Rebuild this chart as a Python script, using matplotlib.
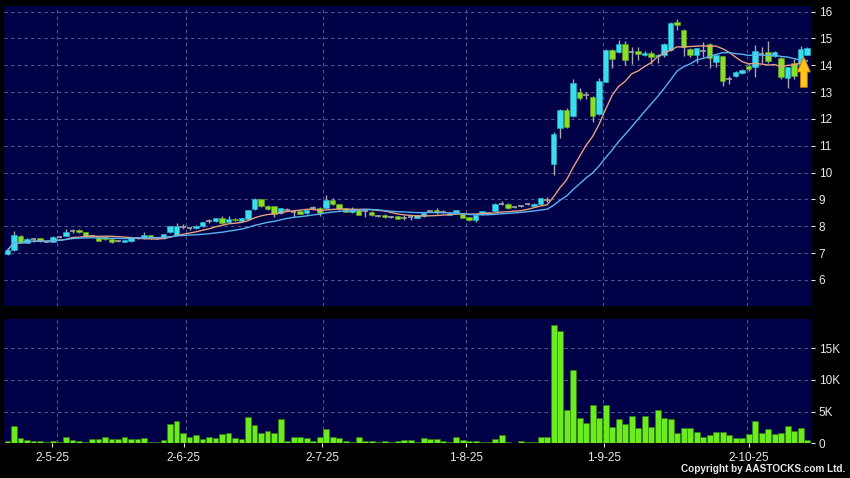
import numpy as np
import pandas as pd
import matplotlib
matplotlib.use('Agg')
import matplotlib.pyplot as plt

# ---------------- data ----------------
opens = [6.96, 7.10, 7.63, 7.39, 7.53, 7.56, 7.43, 7.42, 7.61, 7.65,
         7.84, 7.88, 7.78, 7.63, 7.59, 7.60, 7.52, 7.46, 7.43, 7.45,
         7.55, 7.56, 7.67, 7.55, 7.58, 7.78, 7.68, 7.96, 7.93, 7.93,
         8.01, 8.20, 8.19, 8.32, 8.16, 8.28, 8.20, 8.26, 8.64, 9.00,
         8.75, 8.74, 8.49, 8.62, 8.52, 8.58, 8.48, 8.67, 8.69, 8.67,
         8.99, 8.83, 8.67, 8.52, 8.59, 8.56, 8.54, 8.39, 8.44, 8.36,
         8.37, 8.32, 8.34, 8.32, 8.40, 8.58, 8.62, 8.54, 8.44, 8.48,
         8.48, 8.34, 8.25, 8.46, 8.49, 8.58, 8.84, 8.84, 8.71, 8.75,
         8.83, 8.74, 8.83, 8.99, 10.33, 11.67, 12.33, 12.10, 13.00, 12.90,
         12.83, 12.18, 13.39, 14.56, 14.49, 14.80, 14.50, 14.54, 14.39, 14.46,
         14.33, 14.39, 14.57, 15.62, 15.31, 14.60, 14.39, 14.54, 14.79, 14.11,
         14.33, 13.49, 13.61, 13.71, 13.98, 13.95, 14.42, 14.49, 14.36, 14.27,
         13.51, 14.07, 14.05, 14.39]
highs = [7.13, 7.84, 7.68, 7.55, 7.56, 7.58, 7.46, 7.64, 7.64, 7.89,
         7.89, 7.90, 7.80, 7.66, 7.62, 7.63, 7.53, 7.50, 7.50, 7.58,
         7.58, 7.78, 7.69, 7.58, 7.72, 8.02, 8.11, 8.10, 7.98, 8.04,
         8.17, 8.28, 8.32, 8.38, 8.38, 8.32, 8.32, 8.62, 9.07, 9.03,
         8.78, 8.77, 8.70, 8.70, 8.58, 8.61, 8.61, 8.75, 8.71, 9.16,
         9.06, 8.85, 8.69, 8.72, 8.61, 8.62, 8.56, 8.42, 8.46, 8.40,
         8.39, 8.43, 8.38, 8.44, 8.52, 8.62, 8.67, 8.62, 8.52, 8.61,
         8.50, 8.36, 8.43, 8.58, 8.52, 8.87, 8.93, 8.86, 8.74, 8.78,
         8.88, 8.87, 9.06, 9.08, 11.50, 12.36, 12.40, 13.48, 13.17, 13.00,
         12.86, 13.54, 14.62, 14.62, 14.95, 14.90, 14.69, 14.70, 14.52, 14.52,
         14.42, 14.85, 15.60, 15.72, 15.36, 14.63, 14.66, 14.87, 14.82, 14.39,
         14.36, 13.60, 13.77, 13.87, 14.05, 14.77, 14.70, 14.89, 14.52, 14.30,
         13.95, 14.25, 14.73, 14.67]
lows = [6.94, 7.08, 7.36, 7.37, 7.40, 7.42, 7.40, 7.40, 7.58, 7.63,
        7.76, 7.75, 7.63, 7.60, 7.44, 7.50, 7.37, 7.40, 7.41, 7.43,
        7.52, 7.54, 7.54, 7.52, 7.53, 7.76, 7.66, 7.90, 7.85, 7.91,
        7.99, 8.12, 8.17, 8.09, 8.14, 8.18, 8.18, 8.24, 8.62, 8.72,
        8.62, 8.35, 8.47, 8.58, 8.36, 8.45, 8.46, 8.62, 8.40, 8.65,
        8.81, 8.62, 8.52, 8.50, 8.42, 8.33, 8.39, 8.36, 8.30, 8.32,
        8.27, 8.24, 8.24, 8.30, 8.36, 8.52, 8.46, 8.50, 8.42, 8.46,
        8.30, 8.20, 8.17, 8.44, 8.46, 8.56, 8.78, 8.65, 8.68, 8.72,
        8.79, 8.72, 8.81, 8.90, 9.90, 11.28, 11.67, 12.08, 12.72, 12.75,
        11.90, 12.15, 13.37, 13.90, 14.47, 14.00, 14.05, 14.20, 14.35, 14.05,
        14.10, 14.30, 14.55, 15.30, 14.36, 14.30, 14.10, 14.30, 13.90, 13.95,
        13.24, 13.30, 13.58, 13.68, 13.80, 13.58, 14.10, 14.10, 14.32, 13.50,
        13.16, 13.50, 14.00, 14.37]
closes = [7.11, 7.67, 7.39, 7.52, 7.53, 7.47, 7.43, 7.62, 7.61, 7.77,
          7.84, 7.77, 7.65, 7.63, 7.47, 7.53, 7.40, 7.46, 7.48, 7.56,
          7.55, 7.68, 7.56, 7.55, 7.70, 8.00, 8.00, 7.96, 7.93, 8.02,
          8.15, 8.20, 8.30, 8.11, 8.27, 8.22, 8.30, 8.60, 9.00, 8.74,
          8.66, 8.45, 8.67, 8.62, 8.52, 8.47, 8.59, 8.67, 8.50, 8.97,
          8.83, 8.64, 8.55, 8.64, 8.44, 8.56, 8.41, 8.39, 8.33, 8.36,
          8.29, 8.32, 8.34, 8.42, 8.48, 8.58, 8.52, 8.54, 8.50, 8.59,
          8.32, 8.22, 8.41, 8.56, 8.49, 8.85, 8.84, 8.67, 8.71, 8.75,
          8.83, 8.85, 9.04, 8.99, 11.44, 12.33, 11.69, 13.33, 12.80, 12.90,
          12.10, 13.42, 14.57, 14.22, 14.78, 14.19, 14.50, 14.42, 14.45, 14.32,
          14.37, 14.80, 15.57, 15.50, 14.70, 14.38, 14.64, 14.54, 14.29, 14.37,
          13.40, 13.49, 13.74, 13.84, 13.86, 14.52, 14.42, 14.17, 14.48, 13.55,
          13.92, 13.61, 14.61, 14.64]
volumes_k = [0.37, 2.68, 0.90, 0.50, 0.42, 0.37, 0.26, 0.42, 0.20, 1.00,
             0.58, 0.42, 0.26, 0.74, 0.74, 1.05, 0.68, 0.68, 1.05, 0.63,
             0.63, 0.84, 0.20, 0.26, 0.53, 3.05, 3.47, 1.68, 0.95, 1.26,
             0.68, 0.95, 0.89, 1.42, 1.68, 0.79, 0.63, 4.15, 2.89, 1.68,
             1.95, 1.58, 3.84, 0.47, 0.95, 1.05, 0.79, 0.37, 1.00, 2.31,
             1.00, 0.84, 0.32, 0.26, 1.00, 0.37, 0.32, 0.26, 0.42, 0.21,
             0.47, 0.53, 0.58, 0.21, 0.79, 0.74, 0.63, 0.42, 0.21, 1.00,
             0.53, 0.42, 0.32, 0.21, 0.21, 0.63, 1.37, 0.21, 0.05, 0.47,
             0.26, 0.21, 1.00, 1.00, 18.6, 17.7, 5.20, 11.6, 4.05, 3.30,
             6.00, 4.05, 6.00, 2.60, 3.90, 3.05, 4.30, 2.50, 4.30, 2.60,
             5.20, 3.95, 3.90, 1.60, 2.50, 2.40, 1.75, 1.05, 1.40, 1.85,
             1.75, 1.40, 0.90, 0.90, 1.50, 3.50, 1.60, 2.30, 1.50, 1.60,
             2.70, 2.00, 2.40, 0.50]

date_labels = ['2-5-25', '2-6-25', '2-7-25', '1-8-25', '1-9-25', '2-10-25']
date_label_pos = [6.9, 27.1, 48.4, 70.6, 91.7, 114.0]
date_grid_pos = [7.6, 27.5, 48.5, 70.5, 91.6, 113.7]
price_ticks = [6, 7, 8, 9, 10, 11, 12, 13, 14, 15, 16]
vol_ticks = [0, 5, 10, 15]
vol_tick_labels = ['0', '5K', '10K', '15K']

# ---------------- styling ----------------
BG = '#000046'
FIG_BG = '#000000'
GRID = '#56568C'
TXT = '#E8E8E8'
UP = '#3CDDEF'
DOWN = '#8CDC2A'
DOJI = '#A4A4A4'
WICK = '#A8A8A8'
MA_S = '#E8A07E'
MA_L = '#5AB2F0'
VOL = '#6CEB1E'
VOL_EDGE = '#2F7F08'

plt.rcParams['font.family'] = ['Liberation Sans', 'DejaVu Sans']

o = np.array(opens)
h = np.array(highs)
l = np.array(lows)
c = np.array(closes)
v = np.array(volumes_k)
x = np.arange(len(c))

ma10 = pd.Series(c).rolling(10, min_periods=1).mean().values
ma20 = pd.Series(c).rolling(20, min_periods=1).mean().values

fig = plt.figure(figsize=(8.5, 4.78), dpi=100, facecolor=FIG_BG)
ax = fig.add_axes([0.0047, 0.3598, 0.9494, 0.6276], facecolor=BG)
axv = fig.add_axes([0.0047, 0.0722, 0.9494, 0.2604], facecolor=BG, sharex=ax)

xlim = (-0.55, 123.6)

# ---- price panel ----
ax.vlines(x, l, h, color=WICK, lw=1.0, zorder=2)
up = c > o
dn = c < o
eq = c == o
bw = 0.8
ax.bar(x[up], (c - o)[up], bottom=o[up], width=bw, color=UP,
       edgecolor='#20B8CC', lw=0.4, zorder=3)
ax.bar(x[dn], (o - c)[dn], bottom=c[dn], width=bw, color=DOWN,
       edgecolor='#62A818', lw=0.4, zorder=3)
ax.hlines(c[eq], x[eq] - bw / 2, x[eq] + bw / 2, color=DOJI, lw=1.2, zorder=3)

ax.plot(x, ma10, color=MA_S, lw=1.0, zorder=4)
ax.plot(x, ma20, color=MA_L, lw=1.0, zorder=4)

# arrow marker at the latest bar
ax.annotate('', xy=(x[-1] - 0.5, 14.32), xytext=(x[-1] - 0.5, 13.18),
            arrowprops=dict(arrowstyle='simple,head_length=1.1,head_width=0.95,tail_width=0.5',
                            fc='#FFC21E', ec='#C07A00', lw=0.6,
                            shrinkA=0, shrinkB=0, mutation_scale=10),
            zorder=6)

ax.set_xlim(*xlim)
ax.set_ylim(5.03, 16.21)
ax.set_yticks(price_ticks)
ax.set_yticklabels([str(t) for t in price_ticks])
ax.yaxis.tick_right()
ax.tick_params(axis='y', colors=TXT, labelcolor=TXT, length=3, width=0.8,
               pad=2.5, labelsize=8.5)
ax.tick_params(axis='x', which='both', bottom=False, labelbottom=False)
ax.set_xticks(date_grid_pos, minor=True)
ax.grid(axis='y', which='major', ls=(0, (3, 3)), color=GRID, lw=0.8)
ax.grid(axis='x', which='minor', ls=(0, (3, 3)), color=GRID, lw=0.8)
ax.set_axisbelow(True)
for s in ax.spines.values():
    s.set_visible(False)

# ---- volume panel ----
axv.bar(x, v, width=0.9, color=VOL, edgecolor=VOL_EDGE, lw=0.4, zorder=3)
axv.set_ylim(0, 19.6)
axv.set_yticks(vol_ticks)
axv.set_yticklabels(vol_tick_labels)
axv.yaxis.tick_right()
axv.tick_params(axis='y', colors=TXT, labelcolor=TXT, length=3, width=0.8,
                pad=2.5, labelsize=8.5)
axv.set_xticks(date_label_pos)
axv.set_xticklabels(date_labels)
axv.set_xticks(date_grid_pos, minor=True)
axv.tick_params(axis='x', which='major', colors=TXT, labelcolor=TXT,
                length=3, width=0.8, pad=3, labelsize=8.5)
axv.tick_params(axis='x', which='minor', length=0)
axv.grid(axis='y', which='major', ls=(0, (3, 3)), color=GRID, lw=0.8)
axv.grid(axis='x', which='minor', ls=(0, (3, 3)), color=GRID, lw=0.8)
axv.set_axisbelow(True)
for s in axv.spines.values():
    s.set_visible(False)
axv.set_xlim(*xlim)

fig.text(0.994, 0.008, 'Copyright by AASTOCKS.com Ltd.', ha='right', va='bottom',
         color=TXT, fontsize=7.2, fontweight='bold')

fig.savefig('out.png', dpi=100, facecolor=FIG_BG)
